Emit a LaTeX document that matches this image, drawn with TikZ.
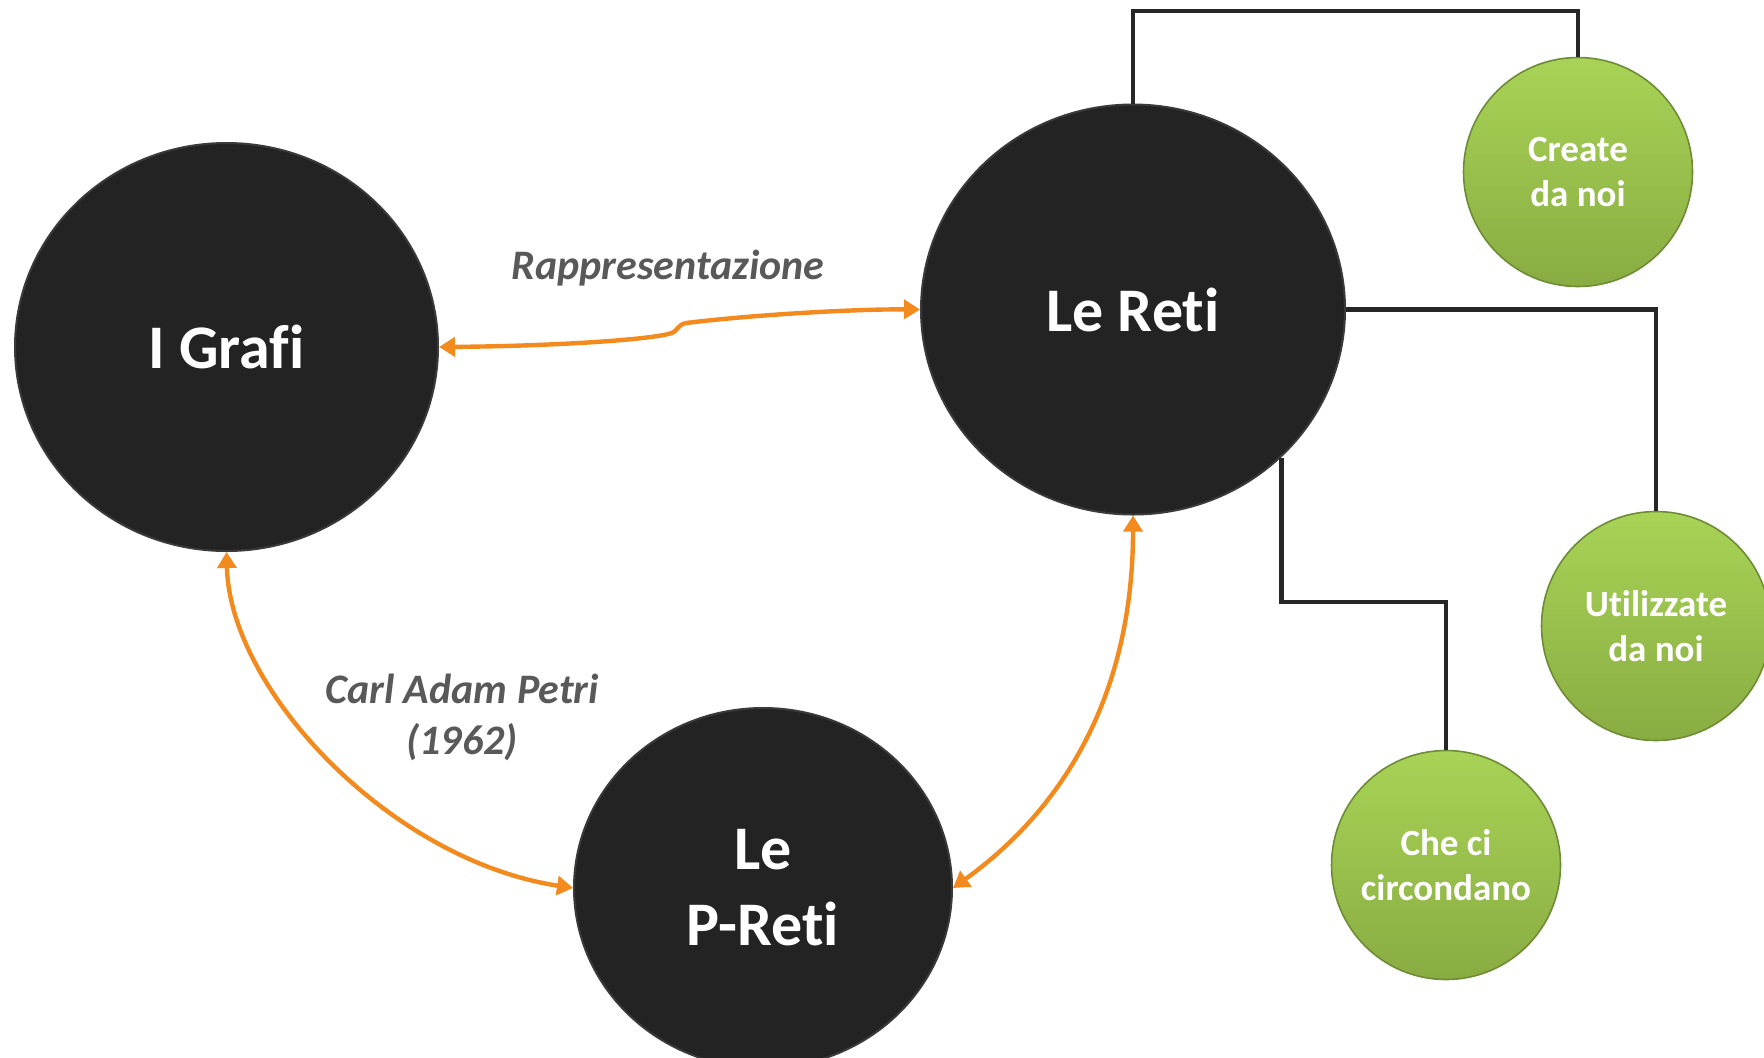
\documentclass[tikz,border=0pt]{standalone}
\usepackage{fontspec}
\setmainfont{Carlito}[Ligatures=NoCommon]
\usetikzlibrary{arrows.meta,shapes.geometric}

\definecolor{disc}{HTML}{232323}
\definecolor{discrim}{HTML}{3A3A3A}
\definecolor{leafhi}{HTML}{A8D356}
\definecolor{leaflo}{HTML}{89AC42}
\definecolor{leafrim}{HTML}{6E8C36}
\definecolor{linkcol}{HTML}{F28A1E}
\definecolor{wirecol}{HTML}{262626}
\definecolor{notecol}{HTML}{595959}

\begin{document}
\begin{tikzpicture}[x=0.5pt,y=-0.5pt,
  bigdisc/.style={ellipse, inner sep=0pt, fill=disc, draw=discrim, line width=1pt,
    text=white, font=\bfseries\fontsize{31}{38}\selectfont, align=center},
  leaf/.style={circle, inner sep=0pt, minimum size=114.5pt,
    top color=leafhi, bottom color=leaflo, draw=leafrim, line width=0.8pt,
    text=white, font=\bfseries\fontsize{18.5}{22.5}\selectfont, align=center},
  wirepath/.style={draw=wirecol, line width=2.4pt},
  linkarrow/.style={draw=linkcol, line width=2.2pt,
    {Triangle[length=8pt,width=9.5pt]}-{Triangle[length=8pt,width=9.5pt]}},
  notetext/.style={text=notecol, font=\bfseries\itshape\fontsize{21}{25.5}\selectfont, align=center}
]
\useasboundingbox (0,0) rectangle (1764,1057);
\clip (0,0) rectangle (1764,1057);

% main discs
\node[bigdisc, minimum width=211.5pt, minimum height=204pt] (grafi) at (226.5,347) {I Grafi};
\node[bigdisc, minimum width=212pt, minimum height=205pt] (reti) at (1133,309.5) {Le Reti};
\node[bigdisc, minimum width=189pt, minimum height=180pt] (preti) at (763,888) {Le\\P-Reti};

% green leaves
\node[leaf] (create) at (1578,172) {Create\\da noi};
\node[leaf] (used) at (1656,626) {Utilizzate\\da noi};
\node[leaf] (around) at (1446,865) {Che ci\\circondano};

% tree wires
\coordinate (topline) at (0,11);
\coordinate (lowbend) at (1446,602);
\draw[wirepath] (reti.north) -- (reti.north |- topline) -| (create.north);
\draw[wirepath] (reti.east) -| (used.north);
\draw[wirepath] (reti.-45) |- (lowbend) -- (around.north);

% orange relations
\draw[linkarrow] (grafi.east)
  .. controls (560,346) and (662,339) .. (674,332)
  .. controls (678,329) and (678,325) .. (686,323)
  .. controls (760,314) and (860,309) .. (reti.west);
\draw[linkarrow] (grafi.south) .. controls (230,690) and (390,860) .. (preti.west);
\draw[linkarrow] (reti.south) .. controls (1133,680) and (1075,800) .. (preti.east);

% labels
\node[notetext] (lblrep) at (668,268) {Rappresentazione};
\node[notetext] (lblpetri) at (462,717) {Carl Adam Petri\\(1962)};
\end{tikzpicture}
\end{document}
